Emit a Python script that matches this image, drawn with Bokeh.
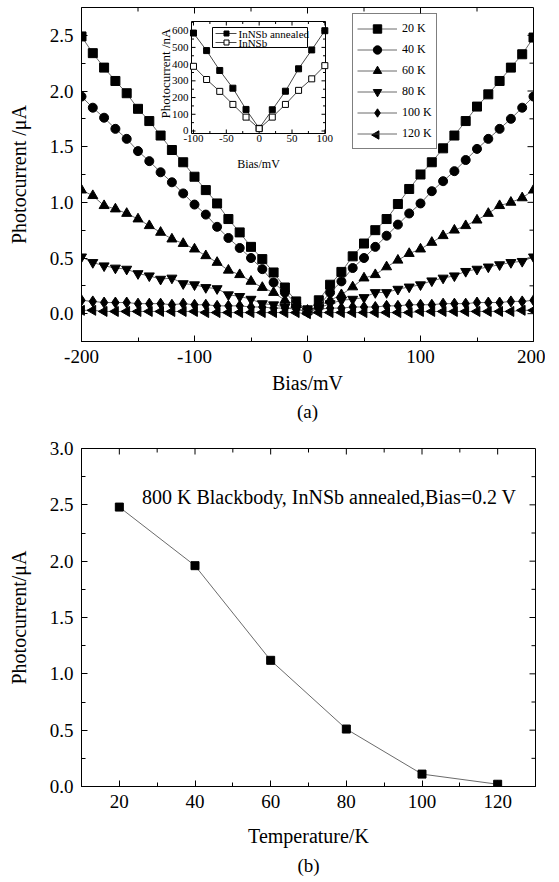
import math
from bokeh.plotting import figure
from bokeh.models import (Range1d, FixedTicker, PrintfTickFormatter,
                          Legend, LegendItem, Title, Label)
from bokeh.layouts import column
from bokeh.embed import file_html
from bokeh.resources import INLINE
from bokeh.core.properties import value

FONT = "Liberation Serif"

# ---------------- data: panel (a) ----------------
bias_mV = [-200, -190, -180, -170, -160, -150, -140, -130, -120, -110, -100,
           -90, -80, -70, -60, -50, -40, -30, -20, -10, 0,
           10, 20, 30, 40, 50, 60, 70, 80, 90, 100,
           110, 120, 130, 140, 150, 160, 170, 180, 190, 200]

pc_20K = [2.49, 2.34, 2.21, 2.09, 1.98, 1.84, 1.73, 1.60, 1.47, 1.36, 1.23,
          1.11, 0.99, 0.85, 0.73, 0.60, 0.49, 0.37, 0.235, 0.11, 0.03,
          0.12, 0.26, 0.375, 0.515, 0.63, 0.75, 0.85, 0.985, 1.12, 1.25,
          1.36, 1.485, 1.60, 1.73, 1.86, 1.97, 2.09, 2.21, 2.33, 2.48]
pc_40K = [1.95, 1.85, 1.76, 1.66, 1.57, 1.46, 1.37, 1.27, 1.18, 1.08, 0.98,
          0.89, 0.78, 0.68, 0.59, 0.50, 0.40, 0.28, 0.19, 0.09, 0.02,
          0.07, 0.19, 0.29, 0.41, 0.50, 0.60, 0.70, 0.80, 0.90, 0.99,
          1.10, 1.19, 1.28, 1.38, 1.48, 1.57, 1.66, 1.75, 1.85, 1.95]
pc_60K = [1.11, 1.06, 0.97, 0.94, 0.90, 0.85, 0.79, 0.73, 0.67, 0.63, 0.58,
          0.52, 0.46, 0.39, 0.35, 0.29, 0.235, 0.19, 0.12, 0.08, 0.03,
          0.07, 0.12, 0.17, 0.24, 0.32, 0.35, 0.42, 0.48, 0.54, 0.58,
          0.64, 0.70, 0.75, 0.79, 0.84, 0.90, 0.97, 1.00, 1.04, 1.11]
pc_80K = [0.51, 0.46, 0.43, 0.41, 0.40, 0.36, 0.34, 0.31, 0.32, 0.27, 0.26,
          0.235, 0.225, 0.17, 0.155, 0.13, 0.09, 0.08, 0.06, 0.04, 0.02,
          0.05, 0.09, 0.12, 0.13, 0.145, 0.19, 0.19, 0.22, 0.24, 0.26,
          0.295, 0.32, 0.34, 0.38, 0.40, 0.42, 0.44, 0.46, 0.47, 0.51]
pc_100K = [0.12, 0.11, 0.10, 0.10, 0.10, 0.09, 0.09, 0.09, 0.08, 0.09, 0.08,
           0.08, 0.07, 0.07, 0.07, 0.06, 0.06, 0.05, 0.05, 0.04, 0.02,
           0.04, 0.05, 0.05, 0.06, 0.06, 0.06, 0.07, 0.07, 0.08, 0.08,
           0.08, 0.09, 0.09, 0.09, 0.10, 0.10, 0.10, 0.11, 0.11, 0.12]
pc_120K = [0.03, 0.03, 0.02, 0.02, 0.02, 0.02, 0.02, 0.02, 0.02, 0.02, 0.02,
           0.01, 0.01, 0.01, 0.01, 0.01, 0.01, 0.01, 0.01, 0.01, 0.00,
           0.01, 0.01, 0.01, 0.01, 0.01, 0.01, 0.01, 0.01, 0.01, 0.02,
           0.02, 0.02, 0.02, 0.02, 0.02, 0.02, 0.02, 0.02, 0.03, 0.03]
series_labels = ["20 K", "40 K", "60 K", "80 K", "100 K", "120 K"]

a_xticks = [-200, -100, 0, 100, 200]
a_xminor = [-150, -50, 50, 150]
a_yticks = [0.0, 0.5, 1.0, 1.5, 2.0, 2.5]
a_yminor = [-0.25, 0.25, 0.75, 1.25, 1.75, 2.25]

# inset
inset_bias = [-100, -80, -60, -40, -20, 0, 20, 40, 60, 80, 100]
inset_annealed_nA = [586, 481, 362, 256, 129, 16, 127, 238, 372, 485, 600]
inset_plain_nA = [387, 308, 237, 159, 83, 14, 83, 159, 243, 312, 391]
inset_labels = ["InNSb annealed", "InNSb"]
inset_xticks = [-100, -50, 0, 50, 100]
inset_xminor = [-75, -25, 25, 75]
inset_yticks = [0, 100, 200, 300, 400, 500, 600]
inset_yminor = [50, 150, 250, 350, 450, 550, 650]
inset_xlim = (-103, 101)
inset_ylim = (-15, 655)

# ---------------- data: panel (b) ----------------
temperature_K = [20, 40, 60, 80, 100, 120]
pc_02V = [2.48, 1.96, 1.12, 0.51, 0.11, 0.02]
b_xticks = [20, 40, 60, 80, 100, 120]
b_xminor = [10, 30, 50, 70, 90, 110, 130]
b_yticks = [0.0, 0.5, 1.0, 1.5, 2.0, 2.5, 3.0]
b_yminor = [0.25, 0.75, 1.25, 1.75, 2.25, 2.75]

MAJ_PX, MIN_PX = 6, 4


# ---------------- helpers ----------------
def style_axis(ax, ticker, fmt, label_standoff):
    ax.ticker = ticker
    ax.formatter = fmt
    ax.axis_line_color = "black"
    ax.axis_line_width = 1
    ax.major_tick_in = MAJ_PX
    ax.major_tick_out = 0
    ax.minor_tick_in = MIN_PX
    ax.minor_tick_out = 0
    ax.major_tick_line_color = "black"
    ax.minor_tick_line_color = "black"
    ax.major_label_text_font = FONT
    ax.major_label_text_color = "black"
    ax.major_label_text_font_size = "19px"
    ax.major_label_standoff = 8
    ax.axis_label_text_font = FONT
    ax.axis_label_text_font_style = "normal"
    ax.axis_label_text_color = "black"
    ax.axis_label_text_font_size = "20px"
    ax.axis_label_standoff = label_standoff


def mirror_ticks(p, xr, yr, fw, fh, xt, xm, yt, ym):
    """inward ticks on the top and right frame edges"""
    sx = (xr[1] - xr[0]) / fw
    sy = (yr[1] - yr[0]) / fh
    for vals, L in ((xt, MAJ_PX), (xm, MIN_PX)):
        vals = [v for v in vals if xr[0] < v < xr[1]]
        p.segment(x0=vals, x1=vals, y0=[yr[1]] * len(vals),
                  y1=[yr[1] - L * sy] * len(vals), line_color="black", line_width=1)
    for vals, L in ((yt, MAJ_PX), (ym, MIN_PX)):
        vals = [v for v in vals if yr[0] < v < yr[1]]
        p.segment(y0=vals, y1=vals, x0=[xr[1]] * len(vals),
                  x1=[xr[1] - L * sx] * len(vals), line_color="black", line_width=1)


# ---------------- panel (a) ----------------
F1_L, F1_R, F1_T, F1_B = 81, 533, 7, 341   # frame in page px
XR1, YR1 = (-200, 200), (-0.25, 2.75)
p1 = figure(frame_width=F1_R - F1_L, frame_height=F1_B - F1_T,
            min_border_left=F1_L, min_border_right=12, min_border_top=F1_T,
            min_border_bottom=87,
            x_range=Range1d(*XR1), y_range=Range1d(*YR1),
            output_backend="svg", toolbar_location=None)
p1.background_fill_color = "white"
p1.border_fill_color = "white"
p1.grid.visible = False
p1.outline_line_color = "black"
p1.xaxis.axis_label = "Bias/mV"
p1.yaxis.axis_label = "Photocurrent /\u03bcA"
style_axis(p1.xaxis[0], FixedTicker(ticks=a_xticks, minor_ticks=a_xminor),
           PrintfTickFormatter(format="%d"), 6)
style_axis(p1.yaxis[0], FixedTicker(ticks=a_yticks, minor_ticks=a_yminor),
           PrintfTickFormatter(format="%.1f"), 17)
mirror_ticks(p1, XR1, YR1, F1_R - F1_L, F1_B - F1_T, a_xticks, a_xminor, a_yticks, a_yminor)

# page-pixel coordinate system for legend decorations
p1.extra_x_ranges = {"px": Range1d(F1_L, F1_R)}
p1.extra_y_ranges = {"py": Range1d(F1_B, F1_T)}
PX = dict(x_range_name="px", y_range_name="py")

series = [pc_20K, pc_40K, pc_60K, pc_80K, pc_100K, pc_120K]
markers = [("square", 0, 9), ("circle", 0, 9), ("triangle", 0, 10),
           ("inverted_triangle", 0, 10), ("diamond", 0, 11), ("triangle", math.pi / 2, 10)]

LEG_L, LEG_T, LEG_PAD, LEG_ROW, LEG_GW = 352, 15, 4, 21, 40
leg_h = 2 * LEG_PAD + LEG_ROW * len(series)
# white legend background (the legend itself is drawn transparent on top)
p1.quad(left=[LEG_L], right=[432], top=[LEG_T], bottom=[LEG_T + leg_h],
        fill_color="white", line_color=None, **PX)

items = []
for ys, (mk, ang, sz), lab in zip(series, markers, series_labels):
    ln = p1.line(bias_mV, ys, line_color="#444444", line_width=0.8)
    sc = p1.scatter(bias_mV, ys, marker=mk, angle=ang, size=sz,
                    fill_color="black", line_color="black")
    items.append(LegendItem(label=lab, renderers=[ln, sc] if ang == 0 else [ln]))

# left-pointing triangle icon for the 120 K legend entry
p1.scatter(x=[LEG_L + LEG_PAD + LEG_GW / 2],
           y=[LEG_T + LEG_PAD + LEG_ROW * 5 + LEG_ROW / 2],
           marker="triangle", angle=math.pi / 2, size=0.4 * LEG_ROW,
           fill_color="black", line_color="black", **PX)

leg = Legend(items=items, location=(LEG_L - F1_L, F1_B - (LEG_T + leg_h)),
             label_text_font=FONT, label_text_font_size="12px",
             label_text_color="black",
             glyph_width=LEG_GW, glyph_height=LEG_ROW, label_height=LEG_ROW, spacing=0,
             padding=LEG_PAD, margin=0, label_standoff=5,
             border_line_color="black", border_line_width=1,
             background_fill_alpha=0)
p1.add_layout(leg, "center")

# ----- inset (drawn in the same frame with its own ranges) -----
IN_L, IN_R, IN_T, IN_B = 191, 325, 21, 133
isx = (inset_xlim[1] - inset_xlim[0]) / (IN_R - IN_L)
isy = (inset_ylim[1] - inset_ylim[0]) / (IN_B - IN_T)
p1.extra_x_ranges["ix"] = Range1d(inset_xlim[0] - (IN_L - F1_L) * isx,
                                  inset_xlim[1] + (F1_R - IN_R) * isx)
p1.extra_y_ranges["iy"] = Range1d(inset_ylim[0] - (F1_B - IN_B) * isy,
                                  inset_ylim[1] + (IN_T - F1_T) * isy)
IR = dict(x_range_name="ix", y_range_name="iy")

p1.quad(left=inset_xlim[0], right=inset_xlim[1], bottom=inset_ylim[0], top=inset_ylim[1],
        fill_color="white", line_color="black", line_width=1, **IR)
for vals, L in ((inset_xticks, 4), (inset_xminor, 2.5)):
    p1.segment(x0=vals, x1=vals, y0=[inset_ylim[0]] * len(vals),
               y1=[inset_ylim[0] + L * isy] * len(vals), line_color="black", line_width=1, **IR)
    p1.segment(x0=vals, x1=vals, y0=[inset_ylim[1]] * len(vals),
               y1=[inset_ylim[1] - L * isy] * len(vals), line_color="black", line_width=1, **IR)
for vals, L in ((inset_yticks, 4), (inset_yminor, 2.5)):
    p1.segment(y0=vals, y1=vals, x0=[inset_xlim[0]] * len(vals),
               x1=[inset_xlim[0] + L * isx] * len(vals), line_color="black", line_width=1, **IR)
    p1.segment(y0=vals, y1=vals, x0=[inset_xlim[1]] * len(vals),
               x1=[inset_xlim[1] - L * isx] * len(vals), line_color="black", line_width=1, **IR)

p1.text(x=inset_xticks, y=[inset_ylim[0]] * len(inset_xticks),
        text=[str(v) for v in inset_xticks], y_offset=1,
        text_align="center", text_baseline="top",
        text_font=value(FONT), text_font_size="11px", text_color="black", **IR)
p1.text(x=[inset_xlim[0]] * len(inset_yticks), y=inset_yticks,
        text=[str(v) for v in inset_yticks], x_offset=-3,
        text_align="right", text_baseline="middle",
        text_font=value(FONT), text_font_size="11px", text_color="black", **IR)
p1.text(x=[(inset_xlim[0] + inset_xlim[1]) / 2], y=[inset_ylim[0]], text=["Bias/mV"], y_offset=30,
        text_align="center", text_baseline="middle",
        text_font=value(FONT), text_font_size="12px", text_color="black", **IR)
p1.text(x=[inset_xlim[0]], y=[inset_ylim[0] + (IN_B - 73) * isy],
        text=["Photocurrent /nA"], x_offset=-26, angle=math.pi / 2,
        text_align="center", text_baseline="middle",
        text_font=value(FONT), text_font_size="13px", text_color="black", **IR)

p1.line(inset_bias, inset_annealed_nA, line_color="#333333", line_width=0.9, **IR)
p1.scatter(inset_bias, inset_annealed_nA, marker="square", size=6,
           fill_color="black", line_color="black", **IR)
p1.line(inset_bias, inset_plain_nA, line_color="#333333", line_width=0.9, **IR)
p1.scatter(inset_bias, inset_plain_nA, marker="square", size=6,
           fill_color="white", line_color="black", **IR)

# inset legend (compact, drawn in page pixels)
IL_L, IL_R, IL_T, IL_B = 212, 307, 27, 47
IL_ROWS = [33, 42]
p1.quad(left=IL_L, right=IL_R, top=IL_T, bottom=IL_B,
        fill_color="white", line_color="black", line_width=1, **PX)
p1.segment(x0=[215, 215], x1=[236, 236], y0=IL_ROWS, y1=IL_ROWS,
           line_color="#333333", line_width=0.9, **PX)
p1.scatter(x=[226, 226], y=IL_ROWS, marker="square", size=5,
           fill_color=["black", "white"], line_color="black", **PX)
p1.text(x=[238, 238], y=IL_ROWS, text=inset_labels, text_baseline="middle",
        text_align="left", text_font=value(FONT), text_font_size="11px",
        text_color="black", **PX)

p1.add_layout(Title(text="(a)", align="center", text_font=FONT, text_font_size="19px",
                    text_font_style="normal", text_color="black", standoff=4), "below")

# ---------------- panel (b) ----------------
F2_L, F2_R, F2_T, F2_B = 81, 535, 448, 786
P1_H = F1_T + (F1_B - F1_T) + 87
XR2, YR2 = (10, 130), (0, 3.0)
p2 = figure(frame_width=F2_R - F2_L, frame_height=F2_B - F2_T,
            min_border_left=F2_L, min_border_right=10, min_border_top=F2_T - P1_H,
            min_border_bottom=90,
            x_range=Range1d(*XR2), y_range=Range1d(*YR2),
            output_backend="svg", toolbar_location=None)
p2.background_fill_color = "white"
p2.border_fill_color = "white"
p2.grid.visible = False
p2.outline_line_color = "black"
p2.xaxis.axis_label = "Temperature/K"
p2.yaxis.axis_label = "Photocurrent/\u03bcA"
style_axis(p2.xaxis[0], FixedTicker(ticks=b_xticks, minor_ticks=b_xminor),
           PrintfTickFormatter(format="%d"), 14)
style_axis(p2.yaxis[0], FixedTicker(ticks=b_yticks, minor_ticks=b_yminor),
           PrintfTickFormatter(format="%.1f"), 17)
mirror_ticks(p2, XR2, YR2, F2_R - F2_L, F2_B - F2_T, b_xticks, b_xminor, b_yticks, b_yminor)

p2.line(temperature_K, pc_02V, line_color="#444444", line_width=0.8)
p2.scatter(temperature_K, pc_02V, marker="square", size=8,
           fill_color="black", line_color="black")
p2.add_layout(Label(x=26, y=2.57, text="800 K Blackbody, InNSb annealed,Bias=0.2 V",
                    text_baseline="middle", text_align="left",
                    text_font=FONT, text_font_size="20px", text_color="black"))
p2.add_layout(Title(text="(b)", align="center", text_font=FONT, text_font_size="19px",
                    text_font_style="normal", text_color="black", standoff=6), "below")

layout = column(p1, p2)
open("out.html", "w").write(file_html(layout, INLINE))
